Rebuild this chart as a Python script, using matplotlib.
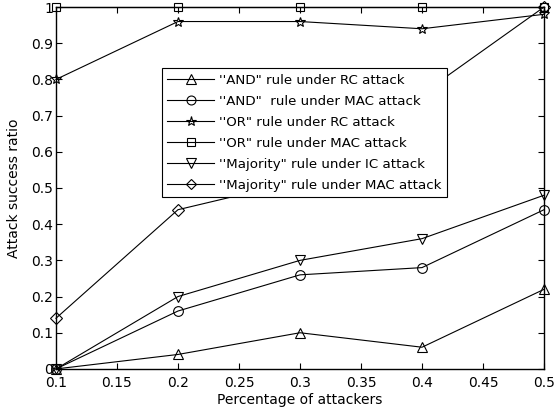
import numpy as np
import matplotlib
matplotlib.use("Agg")
import matplotlib.pyplot as plt

x = [0.1, 0.2, 0.3, 0.4, 0.5]
and_rc = [0, 0.04, 0.10, 0.06, 0.22]
and_mac = [0, 0.16, 0.26, 0.28, 0.44]
or_rc = [0.80, 0.96, 0.96, 0.94, 0.98]
or_mac = [1, 1, 1, 1, 1]
maj_ic = [0, 0.20, 0.30, 0.36, 0.48]
maj_mac = [0.14, 0.44, 0.52, 0.76, 1.0]

labels = ["''AND\" rule under RC attack",
          "''AND\"  rule under MAC attack",
          "''OR\" rule under RC attack",
          "''OR\" rule under MAC attack",
          "''Majority\" rule under IC attack",
          "''Majority\" rule under MAC attack"]
series = [and_rc, and_mac, or_rc, or_mac, maj_ic, maj_mac]
markers = ["^", "o", "*", "s", "v", "D"]
sizes = [7.5, 7, 7.5, 6, 7.5, 6]

plt.rcParams["xtick.direction"] = "in"
plt.rcParams["ytick.direction"] = "in"
plt.rcParams["font.size"] = 10

fig = plt.figure(figsize=(5.54, 4.15), dpi=100)
ax = fig.add_axes([0.101, 0.111, 0.881, 0.872])

for y, m, s, lab in zip(series, markers, sizes, labels):
    ax.plot(x, y, color="black", linewidth=0.8, marker=m, markersize=s,
            markerfacecolor="none", markeredgecolor="black",
            markeredgewidth=0.8, label=lab, clip_on=False)

ax.set_xlim(0.1, 0.5)
ax.set_ylim(0, 1)
ax.set_xticks(np.arange(0.1, 0.501, 0.05))
ax.set_xticklabels(["0.1", "0.15", "0.2", "0.25", "0.3", "0.35", "0.4", "0.45", "0.5"])
ax.set_yticks(np.arange(0, 1.001, 0.1))
ax.set_yticklabels(["0", "0.1", "0.2", "0.3", "0.4", "0.5", "0.6", "0.7", "0.8", "0.9", "1"])
ax.tick_params(axis="x", top=True, length=4, width=0.8, pad=5)
ax.tick_params(axis="y", right=True, length=4, width=0.8, pad=2)
for sp in ax.spines.values():
    sp.set_linewidth(1.0)

ax.set_xlabel("Percentage of attackers", labelpad=2)
ax.set_ylabel("Attack success ratio", labelpad=7)

leg = ax.legend(loc="upper left", bbox_to_anchor=(0.217, 0.831), fancybox=False,
                edgecolor="black", framealpha=1, borderaxespad=0,
                handlelength=3.5, handletextpad=0.4, labelspacing=0.6,
                prop={"size": 9.6}, markerscale=0.92)
leg.get_frame().set_linewidth(0.8)

fig.savefig("out.png", dpi=100)
